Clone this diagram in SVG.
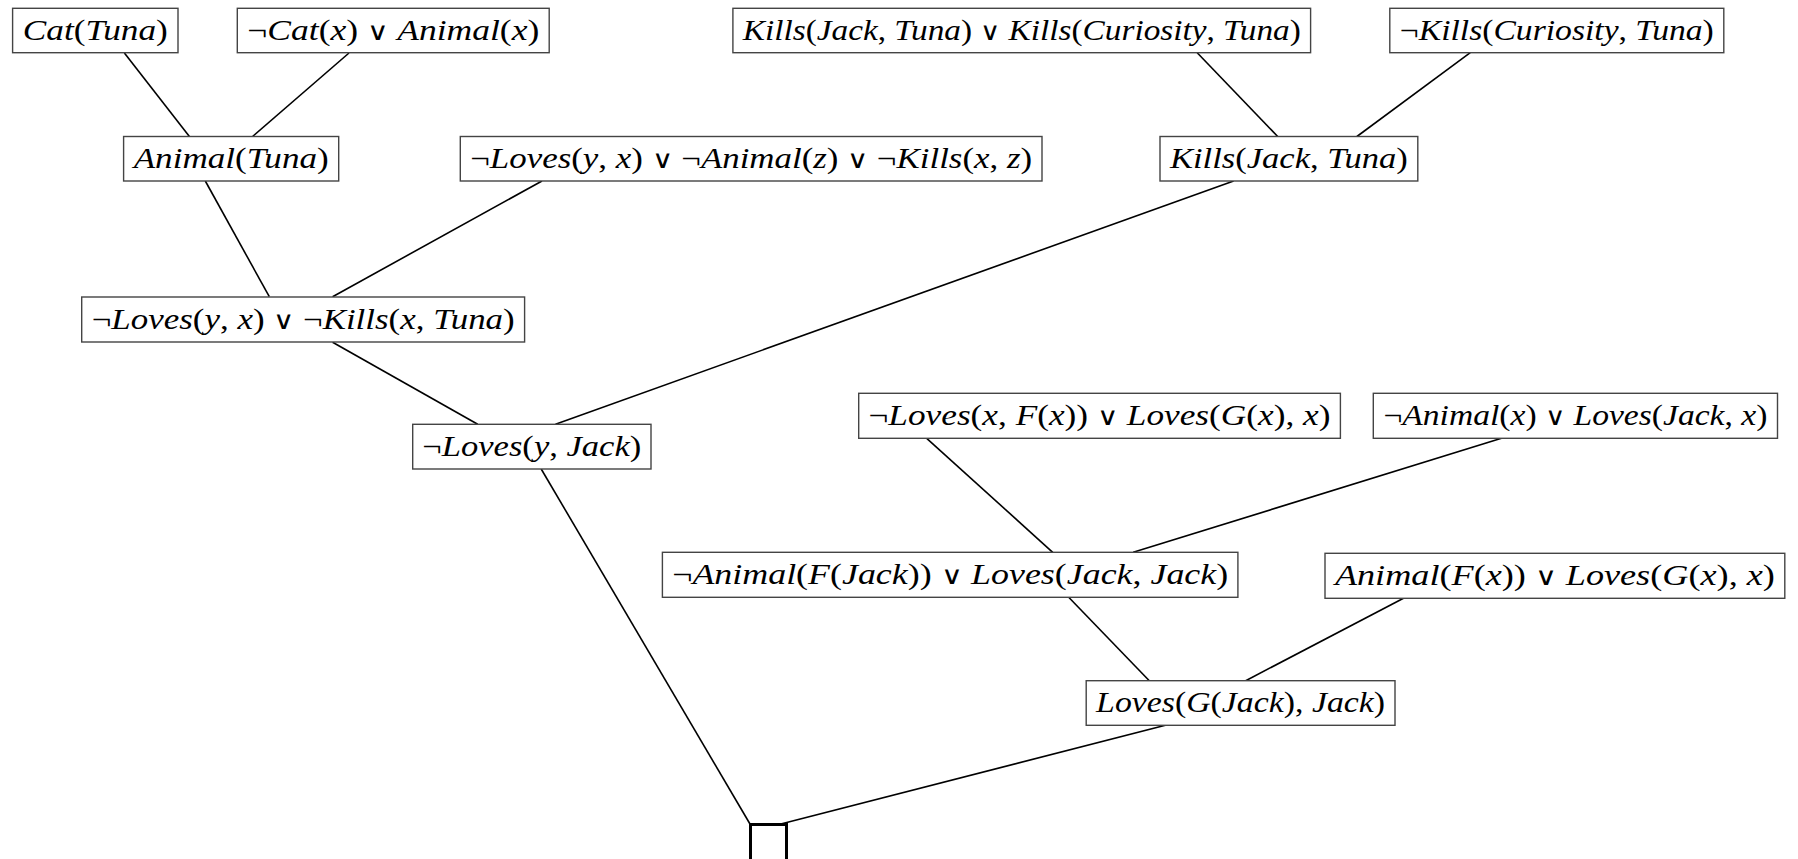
<svg xmlns="http://www.w3.org/2000/svg" width="1798" height="859" viewBox="0 0 1798 859">
<style>
.box{fill:#fff;stroke:#444;stroke-width:1.4}
.t{font-family:"Liberation Serif","DejaVu Serif",serif;font-size:30px;font-style:italic;fill:#000;text-anchor:middle}
.u{font-style:normal}
.o{font-style:normal;font-family:"DejaVu Sans ExtraLight","DejaVu Sans",sans-serif;font-weight:200;font-size:25px}
.c line{stroke:#000;stroke-width:1.6}
.empty{fill:#fff;stroke:#000;stroke-width:3}
</style>
<rect width="1798" height="859" fill="#fff"/>
<g id="connectors" class="c">
<line x1="124.4" y1="53" x2="189.4" y2="136.5"/>
<line x1="349" y1="53" x2="252.6" y2="136.5"/>
<line x1="205.3" y1="181" x2="269.3" y2="296.7"/>
<line x1="542" y1="181" x2="332.6" y2="296.7"/>
<line x1="332.6" y1="342.3" x2="477.7" y2="424.3"/>
<line x1="1233.6" y1="181" x2="555.5" y2="424.3"/>
<line x1="1197.2" y1="52.7" x2="1277.7" y2="136.5"/>
<line x1="1470.3" y1="52.7" x2="1356.9" y2="136.5"/>
<line x1="541.2" y1="469" x2="750" y2="824"/>
<line x1="1165.4" y1="725.3" x2="780.8" y2="824"/>
<line x1="926.7" y1="438.3" x2="1052.7" y2="552.3"/>
<line x1="1501.5" y1="438.3" x2="1133.2" y2="552.3"/>
<line x1="1068.7" y1="597.3" x2="1149.3" y2="680.7"/>
<line x1="1403.5" y1="598.3" x2="1245.7" y2="680.7"/>
</g>
<g id="n1"><rect class="box" x="12.6" y="8.3" width="165.4" height="44.4"/><text class="t" x="95.3" y="40" textLength="145" lengthAdjust="spacingAndGlyphs">Cat<tspan class="u">(</tspan>Tuna<tspan class="u">)</tspan></text></g>
<g id="n2"><rect class="box" x="237.3" y="8.3" width="311.9" height="44.4"/><text class="t" x="393.3" y="40" textLength="292" lengthAdjust="spacingAndGlyphs"><tspan class="u">¬</tspan>Cat<tspan class="u">(</tspan>x<tspan class="u">) </tspan><tspan class="o">∨</tspan><tspan class="u"> </tspan>Animal<tspan class="u">(</tspan>x<tspan class="u">)</tspan></text></g>
<g id="n3"><rect class="box" x="732.9" y="8.3" width="577.7" height="44.4"/><text class="t" x="1021.8" y="40" textLength="558" lengthAdjust="spacingAndGlyphs">Kills<tspan class="u">(</tspan>Jack<tspan class="u">, </tspan>Tuna<tspan class="u">) </tspan><tspan class="o">∨</tspan><tspan class="u"> </tspan>Kills<tspan class="u">(</tspan>Curiosity<tspan class="u">, </tspan>Tuna<tspan class="u">)</tspan></text></g>
<g id="n4"><rect class="box" x="1389.8" y="8.3" width="334" height="44.4"/><text class="t" x="1556.8" y="40" textLength="314" lengthAdjust="spacingAndGlyphs"><tspan class="u">¬</tspan>Kills<tspan class="u">(</tspan>Curiosity<tspan class="u">, </tspan>Tuna<tspan class="u">)</tspan></text></g>
<g id="n5"><rect class="box" x="123.6" y="136.5" width="215.1" height="44.5"/><text class="t" x="231.2" y="168" textLength="195" lengthAdjust="spacingAndGlyphs">Animal<tspan class="u">(</tspan>Tuna<tspan class="u">)</tspan></text></g>
<g id="n6"><rect class="box" x="460.3" y="136.5" width="581.7" height="44.5"/><text class="t" x="751.2" y="168" textLength="562" lengthAdjust="spacingAndGlyphs"><tspan class="u">¬</tspan>Loves<tspan class="u">(</tspan>y<tspan class="u">, </tspan>x<tspan class="u">) </tspan><tspan class="o">∨</tspan><tspan class="u"> ¬</tspan>Animal<tspan class="u">(</tspan>z<tspan class="u">) </tspan><tspan class="o">∨</tspan><tspan class="u"> ¬</tspan>Kills<tspan class="u">(</tspan>x<tspan class="u">, </tspan>z<tspan class="u">)</tspan></text></g>
<g id="n7"><rect class="box" x="1160" y="136.5" width="257.8" height="44.5"/><text class="t" x="1288.9" y="168" textLength="238" lengthAdjust="spacingAndGlyphs">Kills<tspan class="u">(</tspan>Jack<tspan class="u">, </tspan>Tuna<tspan class="u">)</tspan></text></g>
<g id="n8"><rect class="box" x="81.7" y="297" width="442.9" height="45"/><text class="t" x="303.2" y="328.8" textLength="423" lengthAdjust="spacingAndGlyphs"><tspan class="u">¬</tspan>Loves<tspan class="u">(</tspan>y<tspan class="u">, </tspan>x<tspan class="u">) </tspan><tspan class="o">∨</tspan><tspan class="u"> ¬</tspan>Kills<tspan class="u">(</tspan>x<tspan class="u">, </tspan>Tuna<tspan class="u">)</tspan></text></g>
<g id="n9"><rect class="box" x="412.7" y="424.3" width="238.3" height="44.7"/><text class="t" x="531.8" y="456" textLength="219" lengthAdjust="spacingAndGlyphs"><tspan class="u">¬</tspan>Loves<tspan class="u">(</tspan>y<tspan class="u">, </tspan>Jack<tspan class="u">)</tspan></text></g>
<g id="n10"><rect class="box" x="858.7" y="393.3" width="481.7" height="45"/><text class="t" x="1099.5" y="425" textLength="462" lengthAdjust="spacingAndGlyphs"><tspan class="u">¬</tspan>Loves<tspan class="u">(</tspan>x<tspan class="u">, </tspan>F<tspan class="u">(</tspan>x<tspan class="u">)) </tspan><tspan class="o">∨</tspan><tspan class="u"> </tspan>Loves<tspan class="u">(</tspan>G<tspan class="u">(</tspan>x<tspan class="u">), </tspan>x<tspan class="u">)</tspan></text></g>
<g id="n11"><rect class="box" x="1373.3" y="393.3" width="404.2" height="45"/><text class="t" x="1575.4" y="425" textLength="384" lengthAdjust="spacingAndGlyphs"><tspan class="u">¬</tspan>Animal<tspan class="u">(</tspan>x<tspan class="u">) </tspan><tspan class="o">∨</tspan><tspan class="u"> </tspan>Loves<tspan class="u">(</tspan>Jack<tspan class="u">, </tspan>x<tspan class="u">)</tspan></text></g>
<g id="n12"><rect class="box" x="662.4" y="552.3" width="575.5" height="45"/><text class="t" x="950.2" y="584" textLength="556" lengthAdjust="spacingAndGlyphs"><tspan class="u">¬</tspan>Animal<tspan class="u">(</tspan>F<tspan class="u">(</tspan>Jack<tspan class="u">)) </tspan><tspan class="o">∨</tspan><tspan class="u"> </tspan>Loves<tspan class="u">(</tspan>Jack<tspan class="u">, </tspan>Jack<tspan class="u">)</tspan></text></g>
<g id="n13"><rect class="box" x="1325" y="553.3" width="459.8" height="45"/><text class="t" x="1554.9" y="585" textLength="440" lengthAdjust="spacingAndGlyphs">Animal<tspan class="u">(</tspan>F<tspan class="u">(</tspan>x<tspan class="u">)) </tspan><tspan class="o">∨</tspan><tspan class="u"> </tspan>Loves<tspan class="u">(</tspan>G<tspan class="u">(</tspan>x<tspan class="u">), </tspan>x<tspan class="u">)</tspan></text></g>
<g id="n14"><rect class="box" x="1086.2" y="680.7" width="308.8" height="44.6"/><text class="t" x="1240.6" y="712.3" textLength="289" lengthAdjust="spacingAndGlyphs">Loves<tspan class="u">(</tspan>G<tspan class="u">(</tspan>Jack<tspan class="u">), </tspan>Jack<tspan class="u">)</tspan></text></g>
<g id="n15"><rect class="empty" x="750.5" y="824.5" width="36" height="50"/></g>
</svg>
